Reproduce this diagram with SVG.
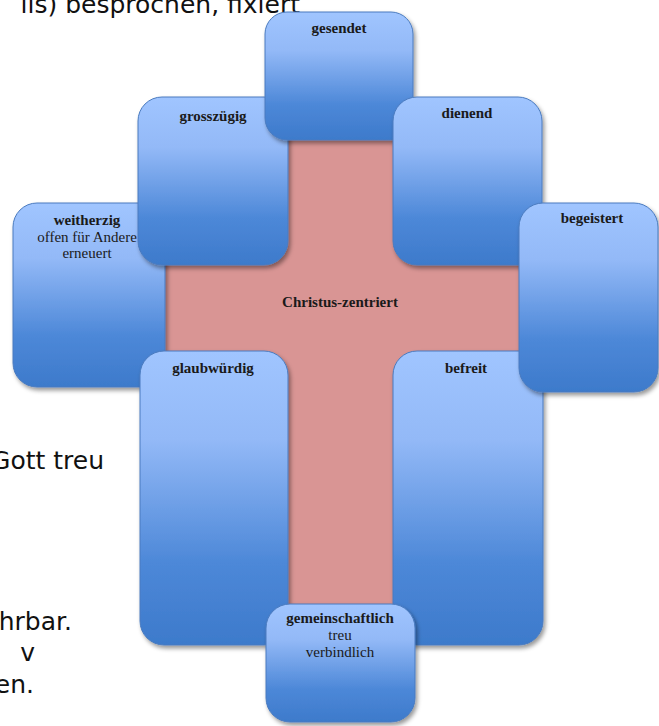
<svg xmlns="http://www.w3.org/2000/svg" width="659" height="726" viewBox="0 0 659 726">
<defs>
<linearGradient id="blue" x1="0" y1="0" x2="0" y2="1">
<stop offset="0" stop-color="#a0c5ff"/>
<stop offset="0.3" stop-color="#93b9f7"/>
<stop offset="0.72" stop-color="#4d88d8"/>
<stop offset="1" stop-color="#3d7acb"/>
</linearGradient>
<filter id="sh" x="-10%" y="-10%" width="125%" height="125%">
<feDropShadow dx="2" dy="3" stdDeviation="2" flood-color="#000" flood-opacity="0.4"/>
</filter>
</defs>
<style>
.bg{font-family:"DejaVu Sans",Verdana,sans-serif;font-size:25px;fill:#111}
.box{fill:url(#blue);stroke:#4a7bbf;stroke-width:1;filter:url(#sh)}
.t{font-family:"Liberation Serif","Times New Roman",serif;font-size:15px;fill:#1a1a1a;text-anchor:middle}
.b{font-weight:bold}
.cross{fill:#d99594}
</style>
<g id="background-text">
<text class="bg" x="300" y="13" text-anchor="end">lis) besprochen, fixiert</text>
<text class="bg" x="104" y="469" text-anchor="end">Gott treu</text>
<text class="bg" x="72" y="630" text-anchor="end">hrbar.</text>
<text class="bg" x="35" y="661" text-anchor="end">v</text>
<text class="bg" x="34" y="693" text-anchor="end">en.</text>
</g>
<g id="christus-zentriert">
<rect class="cross" x="288" y="130" width="105" height="485"/>
<rect class="cross" x="160" y="200" width="362" height="200"/>
<text class="t b" x="340" y="307">Christus-zentriert</text>
</g>
<g id="weitherzig">
<rect class="box" x="13" y="203" width="152" height="184" rx="24"/>
<text class="t b" x="87" y="225">weitherzig</text>
<text class="t" x="87" y="242">offen für Andere</text>
<text class="t" x="87" y="258">erneuert</text>
</g>
<g id="grosszuegig">
<rect class="box" x="138" y="97" width="150" height="168" rx="24"/>
<text class="t b" x="213" y="121">grosszügig</text>
</g>
<g id="gesendet">
<rect class="box" x="265" y="12" width="148" height="128" rx="22"/>
<text class="t b" x="339" y="33">gesendet</text>
</g>
<g id="dienend">
<rect class="box" x="393" y="97" width="149" height="168" rx="24"/>
<text class="t b" x="467" y="118">dienend</text>
</g>
<g id="glaubwuerdig">
<rect class="box" x="140" y="351" width="148" height="294" rx="24"/>
<text class="t b" x="213" y="373">glaubwürdig</text>
</g>
<g id="befreit">
<rect class="box" x="393" y="351" width="150" height="294" rx="24"/>
<text class="t b" x="466" y="373">befreit</text>
</g>
<g id="begeistert">
<rect class="box" x="519" y="203" width="139" height="189" rx="24"/>
<text class="t b" x="592" y="223">begeistert</text>
</g>
<g id="gemeinschaftlich">
<rect class="box" x="266" y="604" width="149" height="118" rx="24"/>
<text class="t b" x="340" y="623">gemeinschaftlich</text>
<text class="t" x="340" y="640">treu</text>
<text class="t" x="340" y="657">verbindlich</text>
</g>
</svg>
